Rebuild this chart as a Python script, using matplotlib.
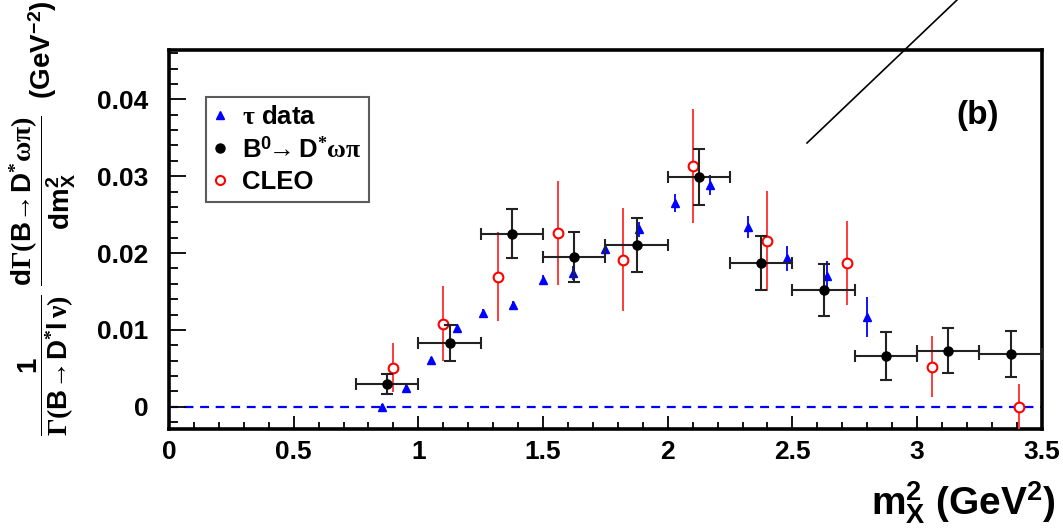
import numpy as np
import matplotlib
matplotlib.use("Agg")
import matplotlib.pyplot as plt
from matplotlib.lines import Line2D

plt.rcParams['font.family'] = ['Liberation Sans', 'DejaVu Sans']
plt.rcParams['font.weight'] = 'bold'
plt.rcParams['mathtext.fontset'] = 'custom'
plt.rcParams['mathtext.rm'] = 'Liberation Serif'
plt.rcParams['mathtext.it'] = 'Liberation Serif:italic'
plt.rcParams['mathtext.bf'] = 'Liberation Sans:bold'
plt.rcParams['mathtext.sf'] = 'Liberation Sans:bold'

# tau data (blue triangles)
tau_x = [0.855, 0.95, 1.05, 1.155, 1.26, 1.38, 1.50, 1.62, 1.75, 1.885,
         2.03, 2.17, 2.32, 2.48, 2.64, 2.80]
tau_y = [0.0, 0.0025, 0.0061, 0.0103, 0.0122, 0.0132, 0.0165, 0.0174, 0.0205, 0.0231,
         0.0265, 0.0288, 0.0234, 0.0193, 0.0170, 0.0117]
tau_err = [0.0004, 0.0004, 0.0004, 0.0005, 0.0005, 0.0005, 0.0006, 0.0009, 0.0008, 0.0010,
           0.0012, 0.0013, 0.0014, 0.0016, 0.0019, 0.0026]

# B0 -> D* omega pi (black points, 0.25 GeV^2 bins)
b_x = [0.875, 1.125, 1.375, 1.625, 1.875, 2.125, 2.375, 2.625, 2.875, 3.125, 3.375]
b_y = [0.0030, 0.0083, 0.0225, 0.0195, 0.0210, 0.0299, 0.0187, 0.0152, 0.0066, 0.0073, 0.0069]
b_err = [0.0013, 0.0023, 0.0032, 0.0033, 0.0035, 0.0036, 0.0035, 0.0034, 0.0031, 0.0029, 0.0030]
b_xerr = [0.125] * 11

# CLEO (red open circles)
cleo_x = [0.90, 1.10, 1.32, 1.56, 1.82, 2.10, 2.40, 2.72, 3.06, 3.41]
cleo_y = [0.0051, 0.0108, 0.0169, 0.0226, 0.0191, 0.0313, 0.0216, 0.0187, 0.0052, 0.0]
cleo_err = [0.0032, 0.0049, 0.0058, 0.0068, 0.0067, 0.0074, 0.0065, 0.0055, 0.0040, 0.0029]

fig = plt.figure(figsize=(10.63, 5.28), dpi=100)
ax = fig.add_axes([0.159, 0.1875, 0.821, 0.7175])

# нулевая линия
ax.axhline(0, color='blue', ls=(0, (4, 3)), lw=1.6, zorder=1)

ax.errorbar(tau_x, tau_y, yerr=tau_err, fmt='^', color='blue', ms=6,
            elinewidth=1.3, capsize=0, zorder=3)
ax.errorbar(cleo_x, cleo_y, yerr=cleo_err, fmt='o', mfc='white', mec='red', mew=1.5,
            ecolor='#ff3b3b', ms=7, elinewidth=1.4, capsize=0, zorder=4)
ax.errorbar(b_x, b_y, xerr=b_xerr, yerr=b_err, fmt='o', color='black', ms=6.5,
            ecolor='#222222', elinewidth=1.5, capsize=4, capthick=1.5, zorder=5)

ax.set_xlim(0, 3.5)
ax.set_ylim(-0.0029, 0.0464)
ax.set_xticks(np.arange(0, 3.51, 0.5))
ax.set_xticklabels(['0', '0.5', '1', '1.5', '2', '2.5', '3', '3.5'])
ax.set_xticks(np.arange(0, 3.51, 0.1), minor=True)
ax.set_yticks([0, 0.01, 0.02, 0.03, 0.04])
ax.set_yticklabels(['0', '0.01', '0.02', '0.03', '0.04'])
ax.set_yticks(np.arange(-0.002, 0.0461, 0.002), minor=True)
ax.tick_params(axis='both', which='both', direction='in', top=False, right=False,
               labelsize=19, width=1.3)
ax.tick_params(axis='y', which='major', length=12, pad=15)
ax.tick_params(axis='y', which='minor', length=6.5)
ax.tick_params(axis='x', which='major', length=9.5, pad=8)
ax.tick_params(axis='x', which='minor', length=5)
for lab in ax.get_xticklabels() + ax.get_yticklabels():
    lab.set_fontweight('bold')
for s in ax.spines.values():
    s.set_linewidth(2.6)

ax.set_ylabel(r"$\dfrac{\mathbf{1}}{\Gamma(\mathbf{B}\!\rightarrow\!\mathbf{D}^{*}\mathbf{l}\,\mathrm{\nu})}"
              r"\ \dfrac{\mathbf{d}\Gamma(\mathbf{B}\!\rightarrow\!\mathbf{D}^{*}\mathrm{\omega\pi})}"
              r"{\mathbf{dm}_{\mathbf{X}}^{\mathbf{2}}}$  (GeV$^{\mathbf{-2}}$)",
              fontsize=20, fontweight='bold')
ax.yaxis.set_label_coords(-0.103, 0.555)

fig.text(1056 / 1063, 0.025, r"m$_{\mathbf{X}}^{\mathbf{2}}$ (GeV$^{\mathbf{2}}$)",
         fontsize=28, fontweight='bold', ha='right', va='baseline')

ax.text(0.927, 0.828, '(b)', transform=ax.transAxes, fontsize=24, fontweight='bold',
        ha='center', va='center')

# легенда
handles = [
    Line2D([], [], marker='^', color='blue', ls='none', ms=6),
    Line2D([], [], marker='o', color='black', ls='none', ms=6.5),
    Line2D([], [], marker='o', mfc='white', mec='red', mew=1.5, ls='none', ms=6.5),
]
labels = [r"$\mathrm{\tau}$ data",
          r"B$^{\mathbf{0}}\!\!\rightarrow$D$^{*}\mathrm{\omega\pi}$",
          "CLEO"]
leg = ax.legend(handles, labels, loc='upper left', bbox_to_anchor=(0.042, 0.876),
                fontsize=18.5, frameon=True, fancybox=False, edgecolor='#333333',
                handlelength=0.5, handletextpad=0.6, labelspacing=0.3,
                borderpad=0.3, borderaxespad=0)
leg.get_frame().set_linewidth(1.5)
for t in leg.get_texts():
    t.set_fontweight('bold')

# диагональная линия сверху
fig.add_artist(Line2D([807 / 1063, 957 / 1063], [1 - 143 / 528, 1.0], color='black', lw=1.2))

fig.savefig('out.png', dpi=100)
